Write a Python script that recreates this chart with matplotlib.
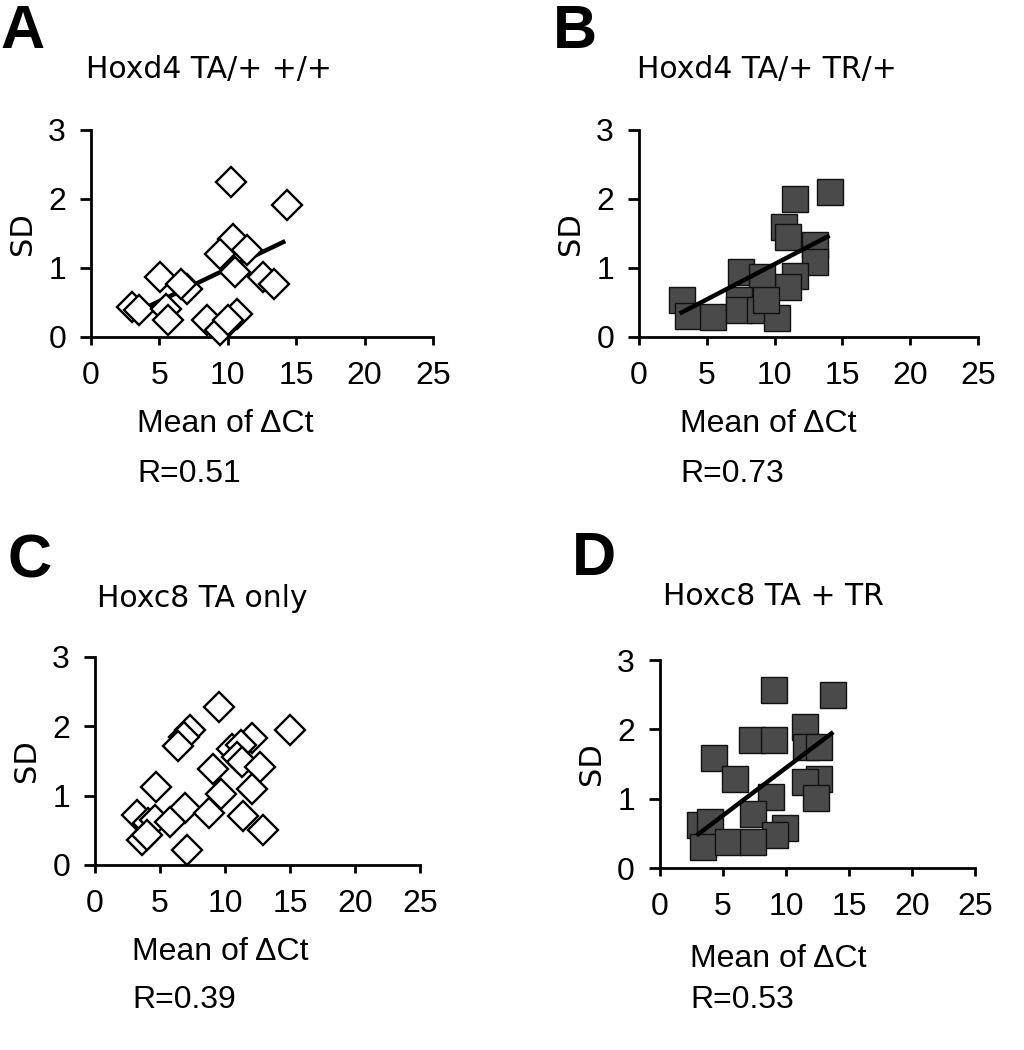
import numpy as np
import matplotlib
matplotlib.use("Agg")
import matplotlib.pyplot as plt

# panel A: Hoxd4 TA/+ +/+  (open diamonds)
a_x = [10.2, 14.3, 10.4, 9.4, 11.4, 5.05, 10.5, 12.6, 13.4, 7.0, 6.6, 3.0, 3.5,
       5.5, 5.6, 8.5, 9.4, 10.7, 10.0]
a_y = [2.24, 1.92, 1.42, 1.21, 1.26, 0.87, 0.94, 0.87, 0.77, 0.70, 0.77, 0.43, 0.39,
       0.41, 0.24, 0.25, 0.10, 0.34, 0.24]
a_fit_x = [3.0, 14.2]
a_fit_y = [0.33, 1.39]

# panel B: Hoxd4 TA/+ TR/+  (filled squares)
b_x = [14.05, 11.5, 10.7, 11.0, 13.0, 13.0, 11.5, 11.0, 7.5, 9.1, 3.2, 3.6,
       5.45, 7.4, 7.4, 8.9, 10.2, 9.4]
b_y = [2.10, 2.00, 1.59, 1.45, 1.33, 1.09, 0.88, 0.72, 0.94, 0.87, 0.53, 0.31,
       0.29, 0.53, 0.39, 0.39, 0.27, 0.53]
b_fit_x = [3.0, 14.05]
b_fit_y = [0.34, 1.47]

# panel C: Hoxc8 TA only  (open diamonds, no fit)
c_x = [9.5, 7.3, 6.85, 6.4, 15.0, 12.1, 10.5, 11.2, 10.9, 11.3, 12.7, 9.1, 4.7,
       9.7, 12.1, 3.2, 6.9, 8.8, 11.4, 12.9, 4.1, 4.6, 5.8, 3.6, 4.0, 7.05]
c_y = [2.28, 1.94, 1.85, 1.72, 1.94, 1.83, 1.68, 1.73, 1.56, 1.49, 1.42, 1.38, 1.13,
       1.02, 1.09, 0.72, 0.82, 0.75, 0.71, 0.50, 0.60, 0.65, 0.62, 0.36, 0.43, 0.22]

# panel D: Hoxc8 TA + TR  (filled squares)
d_x = [9.05, 13.75, 11.5, 7.3, 9.05, 11.6, 12.6, 4.3, 5.95, 12.6, 11.5, 12.4,
       8.8, 7.35, 3.2, 4.0, 9.9, 9.1, 3.4, 5.4, 7.35]
d_y = [2.57, 2.50, 2.04, 1.84, 1.84, 1.75, 1.75, 1.59, 1.29, 1.29, 1.24, 1.01,
       1.02, 0.78, 0.62, 0.66, 0.58, 0.47, 0.30, 0.37, 0.37]
d_fit_x = [2.9, 13.75]
d_fit_y = [0.47, 1.96]

titles = ["Hoxd4 TA/+ +/+", "Hoxd4 TA/+ TR/+", "Hoxc8 TA only", "Hoxc8 TA + TR"]
letters = ["A", "B", "C", "D"]
r_labels = ["R=0.51", "R=0.73", "R=0.39", "R=0.53"]
xticks = [0, 5, 10, 15, 20, 25]
yticks = [0, 1, 2, 3]

W, H = 1024, 1050
fig = plt.figure(figsize=(W / 100, H / 100), dpi=100)

ARIAL = "Liberation Sans"
VERD = "DejaVu Sans"


def make_ax(l, r, t, b):
    ax = fig.add_axes([l / W, 1 - b / H, (r - l) / W, (b - t) / H])
    ax.set_xlim(0, 25)
    ax.set_ylim(0, 3)
    ax.set_xticks(xticks)
    ax.set_yticks(yticks)
    for s in ["top", "right"]:
        ax.spines[s].set_visible(False)
    for s in ["left", "bottom"]:
        ax.spines[s].set_linewidth(2)
    ax.tick_params(axis="x", direction="out", length=6, width=2, pad=11,
                   labelsize=23)
    ax.tick_params(axis="y", direction="out", length=8, width=2, pad=10,
                   labelsize=23)
    for lab in ax.get_xticklabels() + ax.get_yticklabels():
        lab.set_fontfamily(ARIAL)
    return ax


def txt(x, y, s, **kw):
    fig.text(x / W, 1 - y / H, s, va="baseline", ha="left", **kw)


boxes = [(91, 433, 130, 337), (639, 978, 130, 337),
         (95, 420, 657, 865), (660, 975, 660, 868)]
data = [(a_x, a_y, a_fit_x, a_fit_y), (b_x, b_y, b_fit_x, b_fit_y),
        (c_x, c_y, None, None), (d_x, d_y, d_fit_x, d_fit_y)]

for i, (box, (xs, ys, fx, fy)) in enumerate(zip(boxes, data)):
    ax = make_ax(*box)
    if fx is not None:
        ax.plot(fx, fy, color="black", lw=3.2, solid_capstyle="butt", zorder=2)
    if i in (0, 2):
        ax.plot(xs, ys, ls="none", marker="D", ms=15.5, mfc="white", mec="black",
                mew=1.7, clip_on=False, zorder=3)
    else:
        ax.plot(xs, ys, ls="none", marker="s", ms=19, mfc="#4a4a4a", mec="#111111",
                mew=1.0, clip_on=False, zorder=1)
    ax.set_ylabel("SD", fontsize=22, family=VERD, labelpad=8)

# panel letters, titles, x labels, R values
letter_pos = [(0, 48), (553, 48), (8, 578), (572, 575)]
title_pos = [(86, 78), (637, 78), (97, 607), (663, 605)]
mean_pos = [(137, 432), (680, 432), (132, 960), (690, 967)]
r_pos = [(137, 482), (680, 482), (132, 1008), (690, 1008)]

for i in range(4):
    txt(*letter_pos[i], letters[i], fontsize=44, fontweight="bold", family=ARIAL)
    txt(*title_pos[i], titles[i], fontsize=21.5, family=VERD)
    txt(*mean_pos[i], "Mean of \u0394Ct", fontsize=23, family=ARIAL)
    txt(*r_pos[i], r_labels[i], fontsize=23, family=ARIAL)

fig.savefig("out.png", dpi=100, facecolor="white")
